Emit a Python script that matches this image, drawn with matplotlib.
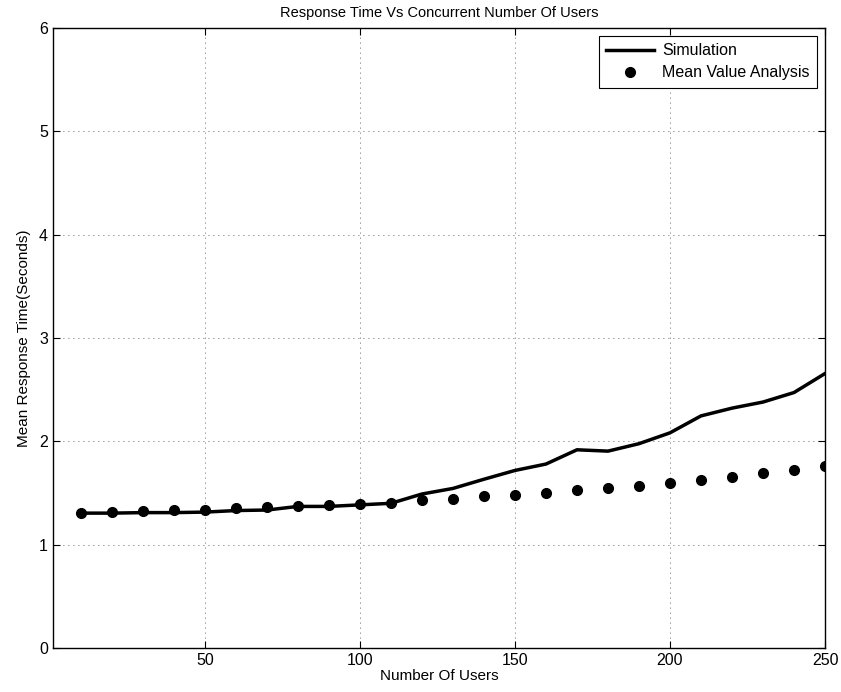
import matplotlib.pyplot as plt

plt.rcParams['font.family'] = ['Liberation Sans', 'DejaVu Sans']

users = [10, 20, 30, 40, 50, 60, 70, 80, 90, 100, 110, 120, 130,
         140, 150, 160, 170, 180, 190, 200, 210, 220, 230, 240, 250]
sim = [1.305, 1.305, 1.31, 1.31, 1.315, 1.33, 1.335, 1.37, 1.37, 1.385,
       1.40, 1.49, 1.544, 1.633, 1.718, 1.78, 1.918, 1.905, 1.977, 2.082,
       2.246, 2.321, 2.38, 2.472, 2.656]
mva = [1.308, 1.315, 1.321, 1.331, 1.338, 1.351, 1.361, 1.374, 1.38, 1.393,
       1.407, 1.428, 1.446, 1.466, 1.479, 1.498, 1.525, 1.548, 1.567, 1.593,
       1.626, 1.652, 1.689, 1.725, 1.761]

fig = plt.figure(figsize=(8.41, 6.92), dpi=100)
ax = fig.add_axes([0.063, 0.0636, 0.918, 0.896])

ax.plot(users, sim, '-', color='black', lw=2.5, label='Simulation')
ax.plot(users, mva, 'o', color='black', ms=7, label='Mean Value Analysis')

ax.set_xlim(1, 250)
ax.set_ylim(0, 6)
ax.set_xticks([50, 100, 150, 200, 250])
ax.set_yticks([0, 1, 2, 3, 4, 5, 6])
ax.grid(True, color='#333333', linestyle=(0, (1, 5)), lw=0.6)
ax.tick_params(direction='in', top=True, right=True, labelsize=11.5, length=5)
for s in ax.spines.values():
    s.set_linewidth(1.0)

ax.set_title('Response Time Vs Concurrent Number Of Users', fontsize=10.5, pad=8)
ax.set_xlabel('Number Of Users', fontsize=11, labelpad=1)
ax.set_ylabel('Mean Response Time(Seconds)', fontsize=11, labelpad=6)

leg = ax.legend(loc='upper right', fontsize=11.5, fancybox=False, edgecolor='black',
                framealpha=1, handlelength=3.0, handletextpad=0.5,
                borderaxespad=0.5, borderpad=0.45, labelspacing=0.45)
leg.get_frame().set_linewidth(0.8)

plt.savefig('out.png', dpi=100)
